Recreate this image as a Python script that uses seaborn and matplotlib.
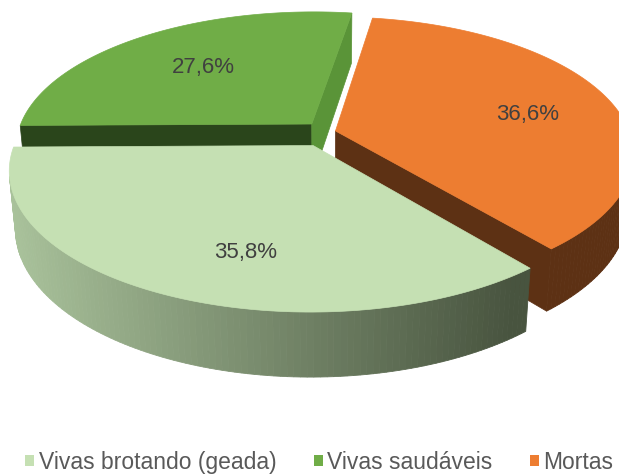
import numpy as np
import matplotlib
matplotlib.use("Agg")
import matplotlib.pyplot as plt
from matplotlib.patches import Polygon, Patch
from matplotlib.colors import to_rgb
import seaborn as sns

# dados
categorias = ["Vivas brotando (geada)", "Vivas saudáveis", "Mortas"]
valores = [35.8, 27.6, 36.6]
rotulos = ["35,8%", "27,6%", "36,6%"]

cores_topo = ["#c5e0b3", "#70ad47", "#ed7d31"]
cores_lado = ["#c5e0b3", "#2b4a1c", "#5d3114"]
# cor das faces radiais (inicio, fim) de cada fatia
cores_radial = [("#3f6b28", "#3f6b28"), ("#2a451b", "#5a9438"), ("#5d3114", "#5d3114")]
explosao = [0.11, 0.08, 0.03]
# posicao dos rotulos: (raio, desvio angular)
pos_rotulo = [(0.71, -9), (0.62, 0), (0.68, 5)]

sns.set_theme(style="white")
plt.rcParams['font.family'] = ['Liberation Sans', 'DejaVu Sans']

# parametros da vista 3D
phi = np.radians(27)      # elevacao
D = 5.3                   # distancia da camera
f = 1558                  # escala
cx, cy = 327, 132         # centro na tela
esp = 0.22                # espessura
primeiro_angulo = 140.5   # angulo da primeira fatia (graus, horario a partir das 12h)

cam = np.array([0.0, D * np.sin(phi), -D * np.cos(phi)])


def proj(x, y, w):
    up = y * np.cos(phi) + w * np.sin(phi)
    prof = D + w * np.cos(phi) - y * np.sin(phi)
    return cx + f * x / prof, cy - f * up / prof


def ponto(th, r, y, off):
    t = np.radians(th)
    return np.array([r * np.sin(t) + off[0], y, r * np.cos(t) + off[2]])


def visivel(p, n):
    return np.dot(cam - p, n) > 0


fig = plt.figure(figsize=(6.19, 4.74), dpi=100)
ax = fig.add_axes([0, 0, 1, 1])
ax.set_xlim(0, 619)
ax.set_ylim(474, 0)
ax.axis("off")

fracs = np.array(valores) / sum(valores) * 360
inicios = primeiro_angulo + np.concatenate([[0], np.cumsum(fracs)[:-1]])

fatias = []
for i in range(3):
    a0, a1 = inicios[i], inicios[i] + fracs[i]
    meio = (a0 + a1) / 2
    off = ponto(meio, explosao[i], 0, [0, 0, 0])
    fatias.append((a0, a1, meio, off))

# ordem de desenho: de tras para frente
ordem = [1, 2, 0]
for i in ordem:
    a0, a1, meio, off = fatias[i]
    ths = np.linspace(a0, a1, 120)
    centro_t = off.copy()
    centro_b = off + np.array([0, -esp, 0])

    # faces radiais
    for j, (a, sinal) in enumerate([(a0, -1), (a1, 1)]):
        t = np.radians(a)
        n = sinal * np.array([np.cos(t), 0, -np.sin(t)])
        p = ponto(a, 0.5, -esp / 2, off)
        if visivel(p, n):
            pts = [centro_t, ponto(a, 1, 0, off), ponto(a, 1, -esp, off), centro_b]
            c = cores_radial[i][j]
            ax.add_patch(Polygon([proj(*q) for q in pts], closed=True, fc=c, ec=c, lw=0.5))

    # lateral curva
    c0 = np.array(to_rgb("#a9c29b"))
    c1 = np.array(to_rgb("#48543f"))
    for k in range(len(ths) - 1):
        pa = ponto(ths[k], 1, 0, off)
        pb = ponto(ths[k + 1], 1, 0, off)
        tm = np.radians((ths[k] + ths[k + 1]) / 2)
        n = np.array([np.sin(tm), 0, np.cos(tm)])
        if not visivel((pa + pb) / 2, n):
            continue
        pts = [pa, pb, pb + [0, -esp, 0], pa + [0, -esp, 0]]
        xy = [proj(*q) for q in pts]
        if i == 0:
            s = np.clip((xy[0][0] - 10) / 505, 0, 1)
            cor = c0 + (c1 - c0) * s
        else:
            cor = cores_lado[i]
        ax.add_patch(Polygon(xy, closed=True, fc=cor, ec=cor, lw=0.6))

    # topo
    pts = [centro_t] + [ponto(a, 1, 0, off) for a in ths]
    ax.add_patch(Polygon([proj(*q) for q in pts], closed=True,
                         fc=cores_topo[i], ec=cores_topo[i], lw=0.5))

# rotulos
for i in range(3):
    a0, a1, meio, off = fatias[i]
    r, d = pos_rotulo[i]
    x, y = proj(*ponto(meio + d, r, 0, off))
    ax.text(x, y, rotulos[i], ha="center", va="center", fontsize=16, color="#404040")

handles = [Patch(facecolor=c, edgecolor="none") for c in cores_topo]
fig.legend(handles, categorias, loc="lower center", bbox_to_anchor=(0.516, -0.043), ncol=3,
           frameon=False, fontsize=16.5, handlelength=0.4, handleheight=0.4,
           handletextpad=0.2, columnspacing=1.62, labelcolor="#595959")

fig.savefig("out.png", dpi=100)
